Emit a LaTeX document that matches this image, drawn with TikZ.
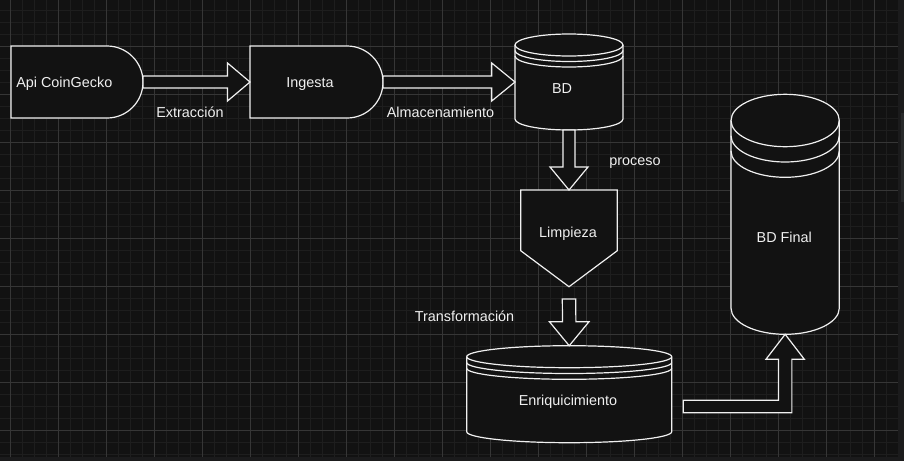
\documentclass[tikz,border=0pt]{standalone}
\usepackage{fontspec}
\setmainfont{Liberation Sans}
\usetikzlibrary{calc}
\definecolor{canvas}{RGB}{18,18,18}
\definecolor{gridminor}{RGB}{30,30,30}
\definecolor{gridmajor}{RGB}{54,54,54}
\definecolor{edgeband}{RGB}{27,27,28}
\definecolor{thumb}{RGB}{40,41,42}
\definecolor{ink}{RGB}{240,240,240}

\begin{document}
\begin{tikzpicture}[
        x=1pt, y=-1pt,
        frame/.style={inner sep=0pt, outer sep=0pt},
        outline/.style={draw=ink, fill=canvas, line width=1.2pt, line join=miter},
        blockarrow/.style={draw=ink, fill=canvas, line width=1.2pt, line join=miter},
        lbl/.style={text=ink, inner sep=0pt, font=\fontsize{14.4}{17}\selectfont, text height=10.3pt, text depth=0pt},
        ]

        % Canvas and grid
        \fill[canvas] (0,0) rectangle (904,461);
        \useasboundingbox (0,0) rectangle (904,461);
        \foreach \gx in {10.5,22.5,...,897}
            \draw[gridminor, line width=1pt] (\gx,0) -- (\gx,456.7);
        \foreach \gy in {-1.7,10.3,...,456}
            \draw[gridminor, line width=1pt] (0,\gy) -- (897.7,\gy);
        \foreach \gx in {10.5,58.5,...,897}
            \draw[gridmajor, line width=1pt] (\gx,0) -- (\gx,456.7);
        \foreach \gy in {-1.7,46.3,...,456}
            \draw[gridmajor, line width=1pt] (0,\gy) -- (897.7,\gy);
        \fill[edgeband] (897.7,0) rectangle (904,461);
        \fill[edgeband] (0,456.7) rectangle (904,461);
        \fill[thumb] (900.7,113) rectangle (904,201.7);

        % Nodes
        \node[frame, minimum width=132pt, minimum height=72pt] (api) at (77,82) {};
        \node[frame, minimum width=133pt, minimum height=72pt] (ingesta) at (316.5,82) {};
        \node[frame, minimum width=108pt, minimum height=96pt] (bd) at (569,82) {};
        \node[frame, minimum width=96.6pt, minimum height=96.7pt] (limpieza) at (569,238.35) {};
        \node[frame, minimum width=205pt, minimum height=97pt] (enriq) at (569.2,394.2) {};
        \node[frame, minimum width=108.3pt, minimum height=240pt] (bdfinal) at (785.15,214.3) {};

        % Shapes
        \draw[outline] (api.north west) -- ++(96,0) arc[start angle=-90, end angle=90, radius=36] -- (api.south west) -- cycle;
        \draw[outline] (ingesta.north west) -- ++(97,0) arc[start angle=-90, end angle=90, radius=36] -- (ingesta.south west) -- cycle;
        \draw[outline] (limpieza.north west) -- (limpieza.north east) -- ($(limpieza.north east)+(0,60.7)$) -- (limpieza.south) -- ($(limpieza.north west)+(0,60.7)$) -- cycle;

        \draw[outline] ($(bd.north west)+(0,11)$) -- ($(bd.south west)+(0,-11)$) arc[start angle=180, end angle=0, x radius=54, y radius=11] -- ($(bd.north east)+(0,11)$) arc[start angle=0, end angle=-180, x radius=54, y radius=11] -- cycle;
        \foreach \dy in {0,5.5,11}
            \draw[outline, fill=none] ($(bd.north west)+(0,11+\dy)$) arc[start angle=180, end angle=0, x radius=54, y radius=11];

        \draw[outline] ($(enriq.north west)+(0,11)$) -- ($(enriq.south west)+(0,-11)$) arc[start angle=180, end angle=0, x radius=102.5, y radius=11] -- ($(enriq.north east)+(0,11)$) arc[start angle=0, end angle=-180, x radius=102.5, y radius=11] -- cycle;
        \foreach \dy in {0,5.8,11.6}
            \draw[outline, fill=none] ($(enriq.north west)+(0,11+\dy)$) arc[start angle=180, end angle=0, x radius=102.5, y radius=11];

        \draw[outline] ($(bdfinal.north west)+(0,26.2)$) -- ($(bdfinal.south west)+(0,-26.2)$) arc[start angle=180, end angle=0, x radius=54.15, y radius=26.2] -- ($(bdfinal.north east)+(0,26.2)$) arc[start angle=0, end angle=-180, x radius=54.15, y radius=26.2] -- cycle;
        \foreach \dy in {0,15.3,30.6}
            \draw[outline, fill=none] ($(bdfinal.north west)+(0,26.2+\dy)$) arc[start angle=180, end angle=0, x radius=54.15, y radius=26.2];

        % Arrows
        \draw[blockarrow] ($(api.east)+(0,-6)$) -- ($(ingesta.west)+(-22.5,-6)$) -- ($(ingesta.west)+(-22.5,-19)$) -- (ingesta.west) -- ($(ingesta.west)+(-22.5,19)$) -- ($(ingesta.west)+(-22.5,6)$) -- ($(api.east)+(0,6)$) -- cycle;
        \draw[blockarrow] ($(ingesta.east)+(0,-6)$) -- ($(bd.west)+(-23.3,-6)$) -- ($(bd.west)+(-23.3,-19)$) -- (bd.west) -- ($(bd.west)+(-23.3,19)$) -- ($(bd.west)+(-23.3,6)$) -- ($(ingesta.east)+(0,6)$) -- cycle;
        \draw[blockarrow] ($(bd.south)+(-6,0)$) -- ($(limpieza.north)+(-6,-23)$) -- ($(limpieza.north)+(-19,-23)$) -- (limpieza.north) -- ($(limpieza.north)+(19,-23)$) -- ($(limpieza.north)+(6,-23)$) -- ($(bd.south)+(6,0)$) -- cycle;
        \draw[blockarrow] ($(limpieza.south)+(-6.7,12.3)$) -- ($(enriq.north)+(-6.7,-24)$) -- ($(enriq.north)+(-19.8,-24)$) -- (enriq.north) -- ($(enriq.north)+(19.8,-24)$) -- ($(enriq.north)+(6.7,-24)$) -- ($(limpieza.south)+(6.7,12.3)$) -- cycle;
        \coordinate (lstart) at ($(enriq.east)+(11.6,12.3)$);
        \draw[blockarrow] ($(lstart)+(0,-6.3)$) -- ($(bdfinal.south |- lstart)+(-6.7,-6.3)$) -- ($(bdfinal.south)+(-6.7,25)$) -- ($(bdfinal.south)+(-19.2,25)$) -- (bdfinal.south) -- ($(bdfinal.south)+(19.2,25)$) -- ($(bdfinal.south)+(6.7,25)$) -- ($(bdfinal.south |- lstart)+(6.7,6.3)$) -- ($(lstart)+(0,6.3)$) -- cycle;

        % Labels
        \node[lbl] (apitext) at (64.3,82) {Api CoinGecko};
        \node[lbl] (ingestatext) at (310,82) {Ingesta};
        \node[lbl] (bdtext) at (562,88) {BD};
        \node[lbl] (limpiezatext) at (568,232) {Limpieza};
        \node[lbl] (enriqtext) at (568,400) {Enriquicimiento};
        \node[lbl] (bdfinaltext) at (784.3,237.7) {BD Final};
        \node[lbl] (extraccion) at (190,112) {Extracción};
        \node[lbl] (almacen) at (440.5,112) {Almacenamiento};
        \node[lbl] (proceso) at (635,160) {proceso};
        \node[lbl] (transf) at (464.5,316) {Transformación};

    \end{tikzpicture}
\end{document}
